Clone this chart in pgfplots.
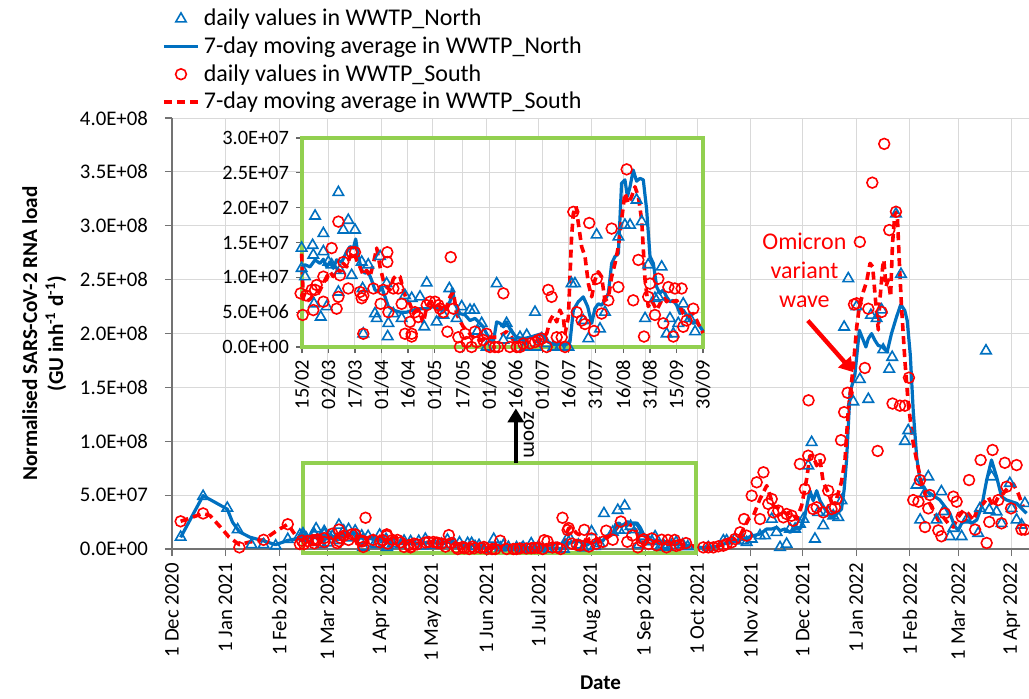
\documentclass[border=0pt]{standalone}
\usepackage{fontspec}
\setmainfont{Carlito}
\usepackage{pgfplots}
\pgfplotsset{compat=1.18}
\usepackage{pgfplotstable}
\usetikzlibrary{arrows.meta}
\definecolor{nblue}{RGB}{0,112,192}
\definecolor{sred}{RGB}{255,0,0}
\definecolor{zgreen}{RGB}{146,208,80}

% x = days since 1 Dec 2020, v = load in units of 1E+06 GU inh-1 d-1
\pgfplotstableread{
d v
5 11
18 49
32 38
38 18
46 4
53 4
60 3
67 9
74 13
75.8 14.2
75.8 11.3
77.7 10.1
82.0 14.6
82.4 13.2
82.8 6.2
83.4 18.8
86.6 4.3
88.1 16.3
88.1 13.7
90.0 5.8
90.9 12.2
92.8 11.8
96.6 22.2
96.6 7.9
97.5 11.0
99.4 16.8
102.2 18.2
104.1 10.3
106.0 16.8
109.8 12.2
110.3 8.4
110.7 1.9
113.5 11.8
117.3 4.8
118.3 4.1
120.2 13.0
123.9 9.1
124.5 1.5
124.9 3.4
127.7 4.8
132.4 4.1
134.3 7.4
138.1 7.0
142.8 7.2
145.2 2.9
146.6 9.2
152.2 3.6
156.0 4.6
159.4 8.4
163.5 4.1
166.4 5.8
171.1 5.3
173.4 5.3
175.4 2.3
177.7 3.4
180.5 0
186.2 9.1
190.0 1.0
191.8 3.4
194.7 1.7
199.4 1.4
202.2 0
203.2 1.7
207.9 5.0
208.8 0
211.7 1.2
214.5 0.5
218.3 0
222.0 0
226.8 0
228.6 9.1
230.5 9.1
235.2 3.8
238.1 1.2
242.8 16.1
244.7 2.6
247.5 5.0
255.1 15.8
258.8 17.5
261.7 17.5
265.4 21.1
268.3 18.0
270.2 4.1
272.0 11.8
275.8 7.0
277.7 7.2
279.6 11.5
282.4 1.9
284.3 4.1
286.2 1.9
289.0 3.4
291.8 6.2
295.6 4.1
298.5 2.2
310.4 1.5
319.1 7.7
321.0 7.7
325.9 9.3
330.7 7.7
332.6 6.2
335.5 9.3
340.3 12.4
343.2 12.4
347.1 27.8
349.9 15.5
351.9 1.5
355.7 4.6
357.7 18.6
360.6 18.6
363.4 23.2
365.4 27.8
368.2 77.3
370.2 99
372.1 9.3
374.0 34.0
376.9 21.7
379.8 34.0
382.7 30.9
385.6 29.4
387.5 44.9
389.0 206
391.4 251
394.3 136.7
396.2 225
398.1 157.5
403.0 139
404.5 217
407.8 214
410.7 222
411.6 185
415.1 167
416.8 178
419.0 311
421.9 255
424.2 100
426.1 110
430.9 59.4
433.0 27
435.8 51.7
437.7 67.1
442.5 27
445.3 53.3
446.4 34.8
450.2 11.6
452.2 19.3
457.0 11.6
459.9 27
466.6 14.6
467.6 37.7
471.1 184
473.0 36.2
474.3 67.1
477.2 34.6
480.1 23.8
484.9 61
485.9 37.7
488.8 27
491.7 22.3
493.6 42.4
}\northD

\pgfplotstableread{
d v
5 10.8
18 49.5
32 37
35 25
39 16
45 11
53 7.5
60 4
67 8
74 10
75.8 11.5
77.7 11.8
80.5 11.5
83.4 12.5
86.2 12.0
88.1 12.6
90.0 11.5
91.8 12.2
93.7 11.3
95.6 12.5
98.5 12.2
101.3 13.7
103.2 14.4
105.1 14.2
106.4 15.5
107.9 13.0
109.8 11.0
111.7 10.6
113.5 10.8
115.4 9.6
117.3 8.2
119.2 7.9
121.1 8.6
123.0 7.2
124.9 5.8
127.7 5.3
131.5 5.0
135.2 5.0
139.0 5.3
142.8 5.5
146.6 5.5
150.3 5.8
154.1 5.3
156.9 5.5
159.8 6.5
161.1 8.4
162.6 6.2
165.4 4.8
168.3 4.6
171.1 3.8
173.9 4.1
176.8 3.4
178.6 2.9
180.5 1.9
182.4 1.0
184.3 0.7
186.2 3.6
188.1 3.4
190.0 2.9
191.8 3.6
193.7 2.6
195.6 1.9
197.5 1.4
201.3 1.2
205.1 1.4
208.8 1.7
211.7 1.9
213.5 1.4
215.4 0.7
218.3 0.4
222.0 0.4
225.8 0.4
227.7 0.7
229.6 5.3
232.4 6.5
235.2 7.2
237.7 5.8
240.0 3.4
241.8 5.5
243.7 6.2
245.6 6.0
247.5 6.7
249.4 7.7
251.3 12.0
253.2 13.0
255.1 13.4
256.9 23.5
258.8 24.0
260.2 21.6
261.7 23.0
263.5 25.4
265.4 23.8
267.3 24.2
269.2 24.0
271.1 19.7
273.0 13.0
274.9 12.0
276.8 8.6
278.6 7.7
280.5 8.2
282.4 7.2
284.3 6.5
286.2 6.7
288.1 6.0
290.0 4.8
291.8 5.3
293.7 4.6
295.6 3.8
297.5 3.4
299.4 3.6
303.2 2.2
307.0 1.2
311.3 1.5
317.1 3.1
321.9 6.2
326.8 7.7
330.7 9.3
333.6 10.8
336.5 12.4
340.3 13.9
344.2 18.6
347.1 18.6
350.0 20.1
351.9 17.0
354.8 18.6
357.7 15.5
360.6 18.6
363.4 18.6
366.3 30.9
369.2 54.1
371.1 44.9
373.1 54.1
375.0 44.9
377.9 37.1
379.8 34.0
381.7 29.4
384.6 32.5
387.5 37.1
389.0 55
390.4 82.6
392.4 144.5
395.3 163
397.8 203
400.1 193.7
401.6 187.5
403.0 195.2
404.9 199.9
406.8 193.7
408.7 189
411.2 187.5
413.9 182.9
416.4 199.9
419.3 215.3
421.8 227
424.1 221.3
425.5 212
427.3 180
429.0 128
431.0 85
432.9 64
435.8 54.8
438.6 51.7
441.5 48.6
444.4 45.5
447.3 39.3
450.2 33.1
453.1 20.7
455.1 17.6
457.0 23.8
459.9 26.9
462.8 23.8
465.7 26.9
468.6 39.3
471.5 64
474.3 82.6
477.2 67.1
480.1 48.6
483.0 45.5
485.9 43.9
488.8 42.4
491.7 37.7
494.6 33.1
}\northMA

\pgfplotstableread{
d v
5 25.7
18 33
39 1.5
53 8.5
67 23
74 4.6
75.2 7.7
76.4 4.6
78.3 7.4
81.5 8.2
82.4 5.3
83.4 8.2
84.3 8.9
88.1 6.5
88.1 10.1
92.8 14.2
95.6 5.5
96.6 18.0
96.6 7.2
97.5 10.3
99.4 12.2
102.2 8.4
104.1 13.6
106.0 13.6
108.8 7.9
109.8 7.0
110.7 7.4
110.7 1.9
116.4 8.4
120.5 6.2
122.0 8.2
124.3 12.2
124.3 13.6
124.9 5.0
127.7 8.4
130.5 8.4
132.4 6.2
134.3 1.9
137.1 3.6
138.1 1.9
138.1 1.5
140.0 5.0
141.8 4.3
146.6 6.0
148.5 6.5
151.3 6.5
153.2 6.0
154.1 5.5
156.0 5.0
158.3 2.2
160.2 12.9
161.7 5.5
164.5 1.4
165.4 0
168.3 1.9
169.2 0.7
172.0 0
173.9 2.2
174.9 0.7
178.6 1.0
180.5 1.9
182.4 0
185.2 0
187.1 0
190.0 7.7
193.7 0
197.5 0
199.4 0
201.3 0.5
205.1 0.5
207.9 0.7
209.8 1.0
211.7 1.2
214.5 0
215.4 8.2
217.3 7.2
220.2 1.4
223.0 1.4
224.9 0
229.6 19.4
231.5 5.0
234.3 3.8
236.2 3.3
238.6 17.8
241.3 2.3
242.8 9.8
245.6 4.8
249.4 6.7
251.3 17.0
255.1 8.6
259.8 25.5
263.5 6.7
266.4 12.5
269.6 1.5
272.0 7.2
273.0 9.1
275.8 4.6
277.7 9.8
280.5 3.4
283.4 8.6
286.2 1.5
287.1 8.4
290.9 8.4
291.8 2.9
293.7 3.8
297.5 5.5
307.5 1.5
310.4 1.5
313.3 1.5
316.2 2.5
319.1 3.1
321.0 4.6
323.9 6.2
325.9 9.3
328.8 15.5
331.1 27.8
332.6 12.4
335.5 49.5
338.4 61.9
340.3 27.8
342.3 71.2
345.1 41.8
347.1 46.4
348.0 34
350.9 35.6
353.8 29.4
355.7 32.5
358.6 30.9
359.6 26.3
363.4 78.9
366.3 55.7
368.2 86.6
368.4 138
371.1 37.1
373.1 38.7
375.0 83.5
376.9 34
379.8 54.1
381.7 37.1
383.7 38.7
384.6 46.4
387.2 101
389.0 127
391.0 145
394.7 227
396.2 228
398.1 285
401.0 168
403.0 223
405.3 340
408.4 91
410.7 220
412.2 376
415.1 296
417.0 135
419.0 313
421.3 133
424.2 133
426.5 159
429.0 45.4
432.0 43.9
432.9 64
435.8 20.4
437.7 37.7
438.6 50.1
443.5 17.3
445.3 11.8
447.3 33.1
452.2 48.6
454.1 43.9
457.0 29.9
461.3 64
464.8 18
468.0 82.6
471.5 5.6
473.0 25.1
474.9 91.9
478.2 45.4
480.1 23.8
482.0 80
483.0 57.8
485.6 37.7
488.8 77.9
491.7 18
493.6 18
}\southD

\pgfplotstableread{
d v
5 25.7
18 33
22 31
28 20.4
33 11.1
39 4
45 6.5
53 8.5
60 16.3
67 23
72 11.6
75.8 13.4
76.8 6.5
79.6 6.7
82.4 7.2
85.2 7.7
88.1 9.1
90.0 10.1
91.8 10.8
93.7 10.1
95.6 11.3
97.5 10.8
99.4 12.0
101.3 11.5
103.2 13.0
105.1 13.7
106.9 12.5
108.8 11.5
110.7 10.3
112.6 11.0
114.5 10.1
116.4 12.0
118.3 14.2
120.2 11.5
122.0 9.6
123.9 8.6
125.8 8.2
127.7 9.8
129.6 10.3
131.5 10.1
133.4 8.2
135.2 6.7
137.1 6.2
139.0 4.8
140.9 5.3
142.8 4.8
144.7 3.4
146.6 5.8
148.5 6.5
151.3 6.5
154.1 5.8
156.9 5.0
159.8 7.2
161.7 7.9
163.5 4.8
165.4 3.8
167.3 2.9
169.2 2.4
171.1 1.9
173.0 1.4
174.9 1.0
178.6 1.0
180.5 1.7
182.4 1.4
186.2 1.4
190.0 1.9
191.8 2.2
193.7 1.7
195.6 1.0
199.4 0.7
203.2 0.7
206.9 0.7
210.7 1.0
214.5 1.9
216.4 3.8
218.3 4.6
220.2 3.6
222.0 5.3
223.9 4.3
224.9 1.9
226.8 4.3
228.6 15.8
229.6 19.2
231.1 20.2
232.4 17.8
234.3 14.4
236.2 13.0
238.1 9.1
240.0 7.2
241.8 9.6
243.7 10.8
245.6 10.1
247.5 6.7
249.4 7.0
251.3 10.1
253.2 12.0
255.1 14.4
256.9 18.2
258.8 22.1
260.7 20.6
262.6 21.6
264.5 23.0
266.4 21.6
268.3 18.2
270.2 9.6
272.0 5.8
273.9 6.7
276.8 5.3
278.6 6.2
280.5 7.2
282.4 6.5
284.3 7.0
286.2 6.5
288.1 6.7
290.0 5.8
291.8 4.8
293.7 4.3
297.5 4.8
303.0 2.0
308.0 1.2
313.3 1.5
319.1 4.6
323.9 7.7
328.8 12.4
331.7 21.7
333.6 27.8
336.5 30.9
340.3 46.4
344.2 58.8
346.1 49.5
348.0 40.2
351.9 37.1
355.7 32.5
358.6 34.0
361.5 27.8
364.4 40.2
367.3 65.0
369.2 86.6
371.1 86.6
373.1 77.3
375.0 83.5
376.9 61.9
379.8 52.6
381.7 43.3
384.6 46.4
387.4 62
389.5 82.6
391.4 129
394.3 169.2
396.3 206.3
397.8 224.9
400.1 238.8
402.0 248.1
404.0 265.1
405.5 262
406.5 243.5
407.8 218.8
408.8 203.3
409.7 231.2
411.3 262
412.0 268.2
413.2 243.5
414.5 249.7
415.9 234.2
417.0 283.6
418.4 311.5
419.7 313
420.9 268.2
422.2 224.9
424.2 174
426.1 135
429.0 98
431.9 75
434.8 54.4
437.7 45.1
440.6 35.9
443.5 26.6
446.4 29.7
449.3 23.5
452.2 20.4
455.1 29.7
458.0 35.9
460.9 32.8
463.8 26.6
466.6 39
469.5 42.1
472.4 48.3
475.3 39
478.2 48.3
481.1 51.4
484.0 57.5
486.9 60.6
489.8 51.4
492.7 39
}\southMA

% points visible only in the main panel
\pgfplotstableread{
d v
250 33
258 36
262 40
}\northX
\pgfplotstableread{
d v
112 29
226 29
229 17.6
}\southX

\pgfplotsset{
  nd/.style={only marks, mark=triangle, mark size=3pt,
    mark options={draw=nblue, fill=none, line width=0.8pt, solid}},
  nma/.style={no marks, draw=nblue, line width=1.6pt, line join=round},
  sd/.style={only marks, mark=o, mark size=2.7pt,
    mark options={draw=sred, fill=none, line width=0.8pt, solid}},
  sma/.style={no marks, draw=sred, line width=1.8pt, dash pattern=on 4pt off 2.5pt, line join=round},
}

\begin{document}
\begin{tikzpicture}
\useasboundingbox (0,0) rectangle (514.5pt,349pt);
\begin{axis}[
  at={(86pt,74.5pt)}, anchor=south west, scale only axis,
  width=428.5pt, height=215.5pt,
  xmin=0, xmax=496, ymin=0, ymax=400,
  clip=false,
  font=\fontsize{10.4}{12.5}\selectfont,
  xtick={0,31,62,90,121,151,182,212,243,274,304,335,365,396,427,455,486},
  xticklabels={1 Dec 2020,1 Jan 2021,1 Feb 2021,1 Mar 2021,1 Apr 2021,1 May 2021,1 Jun 2021,1 Jul 2021,1 Aug 2021,1 Sep 2021,1 Oct 2021,1 Nov 2021,1 Dec 2021,1 Jan 2022,1 Feb 2022,1 Mar 2022,1 Apr 2022},
  xticklabel style={rotate=90, anchor=east},
  ytick={0,50,100,150,200,250,300,350,400},
  yticklabels={0.0E+00,5.0E+07,1.0E+08,1.5E+08,2.0E+08,2.5E+08,3.0E+08,3.5E+08,4.0E+08},
  yticklabel style={xshift=-5pt},
  grid=major, major grid style={draw=black!15, line width=0.5pt},
  axis x line*=bottom, axis y line*=left,
  axis line style={draw=black!55, line width=0.6pt, -},
  tick style={draw=black!55, line width=0.6pt},
  tick align=outside, major tick length=3.5pt,
  xlabel={Date}, xlabel style={font=\fontsize{10.5}{12.5}\selectfont\bfseries},
  ylabel={Normalised SARS-CoV-2 RNA load\\(GU inh\textsuperscript{-1} d\textsuperscript{-1})},
  ylabel style={align=center, font=\fontsize{10.6}{13}\selectfont\bfseries},
  legend cell align=left,
  legend style={at={(axis description cs:-0.012,1.263)}, anchor=north west,
    draw=none, fill=none, row sep=0pt, inner sep=0pt,
    font=\fontsize{12}{14}\selectfont},
]
\addplot[nd] table[x=d,y=v] {\northD};
\addlegendentry{daily values in WWTP\_North}
\addplot[nma] table[x=d,y=v] {\northMA};
\addlegendentry{7-day moving average in WWTP\_North}
\addplot[sd] table[x=d,y=v] {\southD};
\addlegendentry{daily values in WWTP\_South}
\addplot[sma] table[x=d,y=v] {\southMA};
\addlegendentry{7-day moving average in WWTP\_South}
\addplot[nd, forget plot] table[x=d,y=v] {\northX};
\addplot[sd, forget plot] table[x=d,y=v] {\southX};

\draw[zgreen, line width=2pt] (axis cs:76,-3.5) rectangle (axis cs:303,80);
\draw[black, line width=2.2pt, -{Triangle[width=8pt,length=7pt]}] (axis cs:199,80) -- (axis cs:199,130.5);
\node[rotate=-90, font=\fontsize{10.5}{12}\selectfont] at (axis cs:206.5,106) {zoom};
\node[sred, align=center, font=\fontsize{12}{14.5}\selectfont] at (axis cs:366,259) {Omicron\\variant\\wave};
\draw[sred, line width=2.2pt, -{Triangle[width=8pt,length=7pt]}] (axis cs:368,212) -- (axis cs:394.5,164);
\end{axis}

\begin{axis}[
  at={(151pt,175.5pt)}, anchor=south west, scale only axis,
  width=200.5pt, height=104.5pt,
  xmin=76, xmax=303, ymin=0, ymax=30,
  clip=false,
  font=\fontsize{10.2}{12}\selectfont,
  axis background/.style={fill=white},
  xtick={76,91,106,121,136,151,167,182,197,212,227,242,258,273,288,303},
  xticklabels={15/02,02/03,17/03,01/04,16/04,01/05,17/05,01/06,16/06,01/07,16/07,31/07,16/08,31/08,15/09,30/09},
  xticklabel style={rotate=90, anchor=east},
  ytick={0,5,10,15,20,25,30},
  yticklabels={0.0E+00,5.0E+06,1.0E+07,1.5E+07,2.0E+07,2.5E+07,3.0E+07},
  grid=major, major grid style={draw=black!15, line width=0.5pt},
  axis line style={draw=zgreen, line width=2pt},
  tick style={draw=black!60, line width=0.6pt},
  tick align=outside, major tick length=3pt, tick pos=left,
]
\addplot[nd, restrict x to domain=75:304] table[x=d,y=v] {\northD};
\addplot[nma, restrict x to domain=75:304] table[x=d,y=v] {\northMA};
\addplot[sd, restrict x to domain=75:304] table[x=d,y=v] {\southD};
\addplot[sma, restrict x to domain=75:304] table[x=d,y=v] {\southMA};
\end{axis}
\end{tikzpicture}
\end{document}
